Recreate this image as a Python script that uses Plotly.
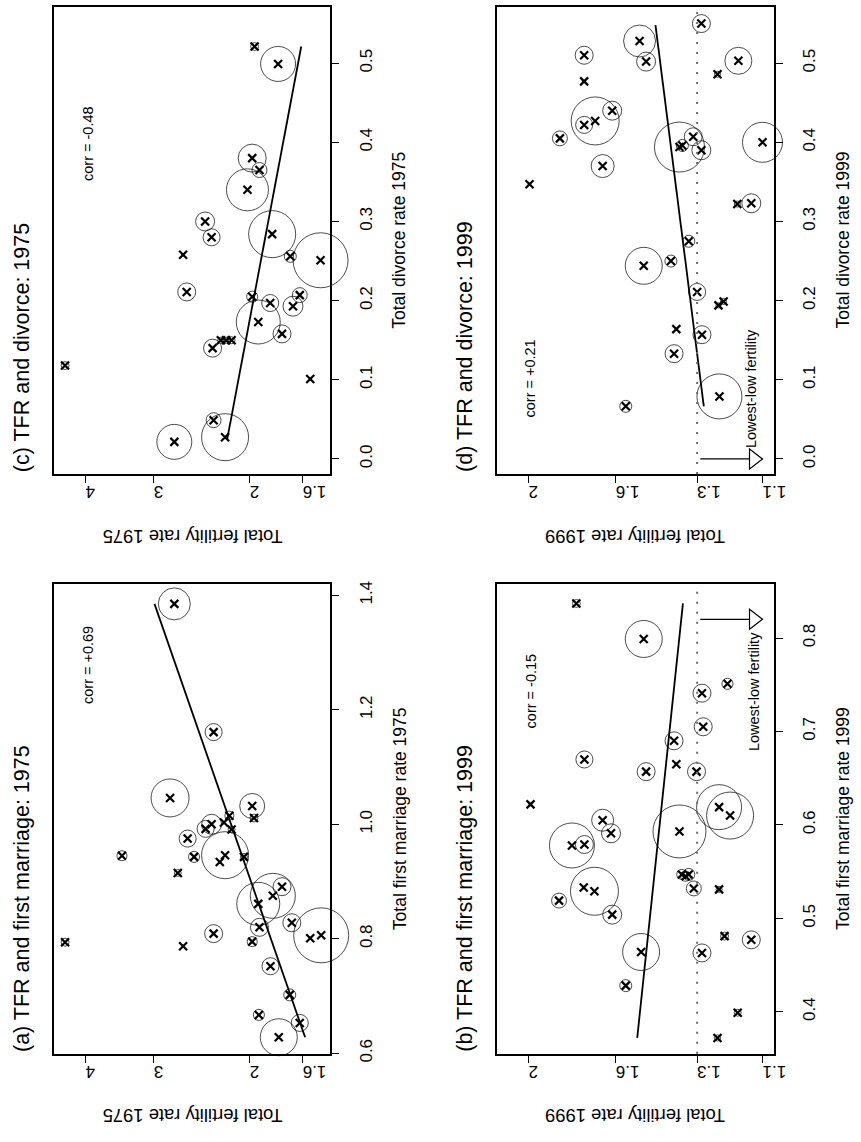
import numpy as np
import plotly.graph_objects as go

# ---------------- data ----------------
# (a) TFR vs total first marriage rate, 1975
a_tfr = [4.36, 3.43, 2.71, 2.65, 2.80, 2.75, 2.33, 1.98, 1.965, 2.18, 2.23, 2.35, 2.41, 2.16, 2.60,
         2.53, 2.22, 2.27, 2.05, 1.746, 1.93, 1.815, 1.675, 1.92, 2.33, 1.98, 1.55, 1.48, 1.833, 1.69,
         1.925, 1.62, 1.77]
a_rate = [0.794, 0.945, 0.915, 0.787, 1.046, 1.385, 1.161, 1.032, 1.011, 1.015, 1.003, 1.000, 0.992,
          0.991, 0.975, 0.943, 0.946, 0.934, 0.943, 0.891, 0.861, 0.875, 0.828, 0.820, 0.809, 0.795,
          0.801, 0.806, 0.752, 0.702, 0.667, 0.653, 0.628]
a_pop = [1.7, 2.7, 1.3, 0.2, 38.8, 27.5, 7.8, 16.8, 1.7, 2.2, 0.2, 10.7, 7.8, 1.3, 7.8, 3.3, 59.4,
         0.2, 1.3, 8.7, 49.7, 54.4, 8.7, 8.7, 8.7, 2.7, 0.2, 81.3, 7.8, 3.9, 3.3, 7.8, 36.8]
a_fit_rate = [0.628, 1.385]
a_fit_tfr = [1.584, 2.99]

# (b) TFR vs total first marriage rate, 1999
b_tfr = [1.77, 1.49, 1.203, 1.284, 1.28, 1.379, 1.734, 1.371, 1.481, 1.302, 1.99, 1.229, 1.195,
         1.655, 1.62, 1.36, 1.79, 1.734, 1.352, 1.339, 1.328, 1.737, 1.69, 1.311, 1.229, 1.85,
         1.615, 1.50, 1.212, 1.132, 1.284, 1.56, 1.172, 1.234]
b_rate = [0.837, 0.799, 0.751, 0.741, 0.705, 0.690, 0.670, 0.665, 0.657, 0.657, 0.622, 0.619, 0.610,
          0.605, 0.591, 0.593, 0.578, 0.579, 0.547, 0.545, 0.547, 0.533, 0.529, 0.532, 0.531, 0.519,
          0.504, 0.464, 0.481, 0.477, 0.463, 0.428, 0.399, 0.372]
b_pop = [1.7, 36.8, 3.3, 8.7, 8.7, 8.7, 7.8, 0.2, 8.7, 8.7, 0.2, 54.4, 59.4, 13.0, 9.7, 75.5, 54.4,
         8.7, 2.7, 2.7, 3.9, 0.2, 61.9, 6.0, 1.0, 6.0, 9.7, 36.8, 1.7, 8.7, 8.7, 3.9, 1.3, 1.0]
b_fit_rate = [0.372, 0.837]
b_fit_tfr = [1.515, 1.348]

# (c) TFR vs total divorce rate, 1975
c_tfr = [4.36, 1.96, 1.775, 1.98, 1.92, 2.02, 2.415, 2.35, 1.82, 2.65, 1.686, 1.484, 2.61, 1.98,
         1.835, 1.62, 1.667, 1.93, 1.746, 2.26, 2.21, 2.16, 2.34, 1.55, 2.33, 2.75, 2.22]
c_rate = [0.118, 0.521, 0.499, 0.380, 0.365, 0.340, 0.300, 0.280, 0.284, 0.258, 0.256, 0.251, 0.211,
          0.205, 0.197, 0.207, 0.193, 0.173, 0.158, 0.150, 0.150, 0.150, 0.140, 0.101, 0.049,
          0.0216, 0.0275]
c_pop = [1.7, 1.7, 32.9, 21.1, 6.0, 47.4, 9.7, 7.8, 59.4, 0.2, 3.9, 81.3, 8.7, 3.3, 7.8, 6.0, 10.7,
         52.0, 8.7, 1.0, 1.0, 1.3, 8.7, 0.2, 6.0, 32.9, 59.4]
c_fit_rate = [0.025, 0.521]
c_fit_tfr = [2.20, 1.61]

# (d) TFR vs total divorce rate, 1999
d_tfr = [1.506, 1.286, 1.735, 1.481, 1.17, 1.234, 1.735, 1.615, 1.735, 1.687, 1.846, 1.313, 1.35,
         1.36, 1.286, 1.10, 1.655, 1.995, 1.173, 1.132, 1.328, 1.39, 1.49, 1.30, 1.231, 1.215,
         1.371, 1.284, 1.379, 1.228, 1.56]
d_rate = [0.528, 0.550, 0.510, 0.502, 0.503, 0.486, 0.477, 0.440, 0.422, 0.427, 0.405, 0.407, 0.396,
          0.394, 0.390, 0.400, 0.370, 0.347, 0.322, 0.323, 0.275, 0.250, 0.244, 0.211, 0.194, 0.199,
          0.164, 0.157, 0.133, 0.079, 0.0665]
d_pop = [27.5, 8.7, 8.7, 9.7, 19.6, 1.0, 0.2, 9.7, 7.8, 61.9, 6.0, 8.7, 3.9, 67.2, 9.7, 43.0, 14.2,
         0.2, 1.0, 9.7, 3.9, 3.9, 36.8, 7.8, 0.7, 1.0, 0.2, 8.7, 8.7, 54.4, 3.9]
d_fit_rate = [0.0665, 0.548]
d_fit_tfr = [1.278, 1.446]

corr_text = {"a": "+0.69", "b": "-0.15", "c": "-0.48", "d": "+0.21"}
lowest_low = 1.3          # lowest-low fertility threshold
lowest_low_end = 1.1      # arrow points towards lower TFR

W, H = 861, 1142
FONT = "Liberation Sans, Arial, Helvetica, sans-serif"

panels = [
    dict(key="c", n=1, box=(55, 335, 4, 476), tfr=c_tfr, rate=c_rate, pop=c_pop,
         fit_tfr=c_fit_tfr, fit_rate=c_fit_rate, xr=(4.564, 1.424), yr=(-0.019, 0.571),
         xt=[4, 3, 2, 1.6], yt=[0.0, 0.1, 0.2, 0.3, 0.4, 0.5],
         title="(c) TFR and divorce: 1975", rlab="Total divorce rate 1975",
         tlab="Total fertility rate 1975", corr_at=(3.96, 0.399), lowest=None),
    dict(key="d", n=2, box=(504, 785, 4, 476), tfr=d_tfr, rate=d_rate, pop=d_pop,
         fit_tfr=d_fit_tfr, fit_rate=d_fit_rate, xr=(2.168, 1.068), yr=(-0.019, 0.571),
         xt=[2, 1.6, 1.3, 1.1], yt=[0.0, 0.1, 0.2, 0.3, 0.4, 0.5],
         title="(d) TFR and divorce: 1999", rlab="Total divorce rate 1999",
         tlab="Total fertility rate 1999", corr_at=(1.99, 0.101),
         lowest=dict(arrow_rate=0.0, text_at=(1.134, 0.089))),
    dict(key="a", n=3, box=(55, 335, 587, 1062), tfr=a_tfr, rate=a_rate, pop=a_pop,
         fit_tfr=a_fit_tfr, fit_rate=a_fit_rate, xr=(4.564, 1.424), yr=(0.599, 1.42),
         xt=[4, 3, 2, 1.6], yt=[0.6, 0.8, 1.0, 1.2, 1.4],
         title="(a) TFR and first marriage: 1975", rlab="Total first marriage rate 1975",
         tlab="Total fertility rate 1975", corr_at=(3.96, 1.278), lowest=None),
    dict(key="b", n=4, box=(504, 785, 587, 1062), tfr=b_tfr, rate=b_rate, pop=b_pop,
         fit_tfr=b_fit_tfr, fit_rate=b_fit_rate, xr=(2.168, 1.068), yr=(0.355, 0.858),
         xt=[2, 1.6, 1.3, 1.1], yt=[0.4, 0.5, 0.6, 0.7, 0.8],
         title="(b) TFR and first marriage: 1999", rlab="Total first marriage rate 1999",
         tlab="Total fertility rate 1999", corr_at=(1.987, 0.743),
         lowest=dict(arrow_rate=0.82, text_at=(1.122, 0.743))),
]

fig = go.Figure()
annotations = []
shapes = []
layout = {}


def px(x):
    return x / W


def py(y):
    return 1 - y / H


for p in panels:
    n = p["n"]
    xa = "x" if n == 1 else f"x{n}"
    ya = "y" if n == 1 else f"y{n}"
    x0, x1, y0, y1 = p["box"]

    layout["xaxis" if n == 1 else f"xaxis{n}"] = dict(
        type="log", domain=[px(x0), px(x1)], anchor=ya,
        range=[np.log10(p["xr"][0]), np.log10(p["xr"][1])],
        tickvals=p["xt"], ticktext=[f"{v:g}" for v in p["xt"]],
        tickangle=180, ticks="outside", ticklen=7, tickwidth=1, tickcolor="black",
        tickfont=dict(size=17, color="black", family=FONT),
        showline=True, linecolor="black", linewidth=1.8, mirror=True,
        showgrid=False, zeroline=False,
    )
    layout["yaxis" if n == 1 else f"yaxis{n}"] = dict(
        domain=[py(y1), py(y0)], anchor=xa, side="right",
        range=list(p["yr"]), tickvals=p["yt"], tickformat=".1f",
        tickangle=-90, ticks="outside", ticklen=7, tickwidth=1, tickcolor="black",
        ticklabelstandoff=12,
        tickfont=dict(size=17, color="black", family=FONT),
        showline=True, linecolor="black", linewidth=1.8, mirror=True,
        showgrid=False, zeroline=False,
    )

    # lowest-low fertility threshold line, arrow and label
    if p["lowest"] is not None:
        lw = p["lowest"]
        shapes.append(dict(type="line", xref=xa, yref=f"{ya} domain",
                           x0=lowest_low, x1=lowest_low, y0=0, y1=1,
                           line=dict(color="#6a6a6a", width=2, dash="2px,8px")))
        shapes.append(dict(type="line", xref=xa, yref=ya,
                           x0=lowest_low * 0.992, x1=lowest_low_end,
                           y0=lw["arrow_rate"], y1=lw["arrow_rate"],
                           line=dict(color="black", width=1.2)))
        shapes.append(dict(type="path", xref=xa, yref=ya, xsizemode="pixel", ysizemode="pixel",
                           xanchor=lowest_low_end, yanchor=lw["arrow_rate"],
                           path="M -13,-10 L 0,0 L -13,10 Z",
                           fillcolor="white", line=dict(color="black", width=1.2)))
        tx, ty = lw["text_at"]
        annotations.append(dict(xref=xa, yref=ya, x=np.log10(tx), y=ty,
                                xanchor="center", yanchor="middle",
                                text="Lowest-low fertility", textangle=-90, showarrow=False,
                                font=dict(size=14.5, color="black", family=FONT)))

    # circles sized by population
    pop = np.array(p["pop"])
    fig.add_trace(go.Scatter(
        x=p["tfr"], y=p["rate"], xaxis=xa, yaxis=ya, mode="markers",
        marker=dict(symbol="circle-open", size=6.1 * np.sqrt(pop), color="black",
                    line=dict(width=1, color="black")),
        cliponaxis=False, hoverinfo="skip", showlegend=False))
    # country points
    fig.add_trace(go.Scatter(
        x=p["tfr"], y=p["rate"], xaxis=xa, yaxis=ya, mode="markers",
        marker=dict(symbol="x-thin", size=8, color="black", line=dict(width=2.2, color="black")),
        cliponaxis=False, showlegend=False))
    # regression line
    fig.add_trace(go.Scatter(
        x=p["fit_tfr"], y=p["fit_rate"], xaxis=xa, yaxis=ya, mode="lines",
        line=dict(color="black", width=1.8), showlegend=False, hoverinfo="skip"))

    cx, cy = p["corr_at"]
    annotations.append(dict(xref=xa, yref=ya, x=np.log10(cx), y=cy,
                            xanchor="center", yanchor="middle",
                            text=f"corr = {corr_text[p['key']]}", textangle=-90, showarrow=False,
                            font=dict(size=14.5, color="black", family=FONT)))

    # panel title (reads bottom to top, starting at the bottom of the box)
    annotations.append(dict(xref="paper", yref="paper", x=px(x0 - 32), y=py(y1),
                            xanchor="center", yanchor="bottom", text=p["title"], textangle=-90,
                            showarrow=False, font=dict(size=21.5, color="black", family=FONT)))
    # rate axis title
    annotations.append(dict(xref="paper", yref="paper", x=px(x1 + 70), y=py((y0 + y1) / 2),
                            xanchor="center", yanchor="middle",
                            text=p["rlab"], textangle=-90, showarrow=False,
                            font=dict(size=17.5, color="black", family=FONT)))
    # fertility axis title (upside down)
    annotations.append(dict(xref="paper", yref="paper", x=px((x0 + x1) / 2), y=py(y1 + 63),
                            xanchor="center", yanchor="middle",
                            text=p["tlab"], textangle=180, showarrow=False,
                            font=dict(size=18.4, color="black", family=FONT)))

fig.update_layout(
    width=W, height=H, margin=dict(l=0, r=0, t=0, b=0),
    paper_bgcolor="white", plot_bgcolor="white",
    font=dict(family=FONT, color="black"),
    showlegend=False, annotations=annotations, shapes=shapes,
    **layout,
)

fig.write_html("out.html")
